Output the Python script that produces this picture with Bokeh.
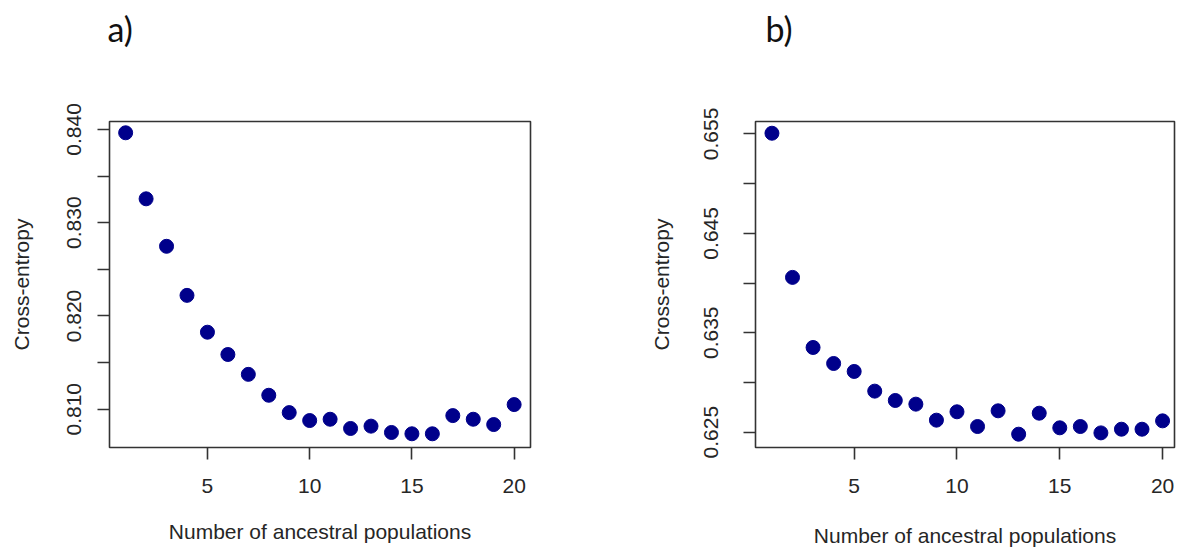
from bokeh.plotting import figure
from bokeh.models import FixedTicker, Range1d, PrintfTickFormatter
from bokeh.layouts import row
from bokeh.embed import file_html
from bokeh.resources import INLINE

# ---- data ----
k = list(range(1, 21))
ce_a = [0.83964, 0.83256, 0.82747, 0.82221, 0.81826, 0.81587, 0.81374, 0.81150,
        0.80964, 0.80879, 0.80893, 0.80794, 0.80819, 0.80751, 0.80737, 0.80737,
        0.80932, 0.80893, 0.80836, 0.81050]
ce_b = [0.65507, 0.64057, 0.63352, 0.63191, 0.63111, 0.62913, 0.62819, 0.62782,
        0.62621, 0.62705, 0.62557, 0.62715, 0.62480, 0.62691, 0.62544, 0.62557,
        0.62493, 0.62530, 0.62530, 0.62614]
xticks = [5, 10, 15, 20]
yticks_a = [0.810, 0.820, 0.830, 0.840]
yminor_a = [0.815, 0.825, 0.835]
yticks_b = [0.625, 0.635, 0.645, 0.655]
yminor_b = [0.630, 0.640, 0.650]
panel_labels = ["a)", "b)"]
xlabel = "Number of ancestral populations"
ylabel = "Cross-entropy"

FONT = "Liberation Sans"
INK = "#262626"


def make(ys, yt, ym, yr, xr, width, height, bl, br, bt, bb, tag, tag_off,
         lab_std, title_std, xtitle_std):
    p = figure(width=width, height=height, output_backend="svg", toolbar_location=None,
               x_range=Range1d(*xr), y_range=Range1d(*yr),
               min_border_left=bl, min_border_right=br, min_border_top=bt,
               min_border_bottom=bb)
    p.background_fill_color = "white"
    p.border_fill_color = "white"
    p.outline_line_color = "#333333"
    p.outline_line_width = 1.6
    p.grid.visible = False

    # panel tag placed high above the frame: a second (empty) line lifts it
    p.title.text = tag + "\n "
    p.title.text_font = "Lato"
    p.title.text_font_size = "34px"
    p.title.text_font_style = "normal"
    p.title.text_color = "#111111"
    p.title.text_line_height = 1.75
    p.title.align = "left"
    p.title.offset = tag_off
    p.title.standoff = 2

    p.scatter(k, ys, size=14, color="#00008B", line_color="#00008B")

    xa = p.xaxis[0]
    xa.ticker = FixedTicker(ticks=xticks)
    ya = p.yaxis[0]
    ya.ticker = FixedTicker(ticks=yt, minor_ticks=ym)
    ya.formatter = PrintfTickFormatter(format="%.3f")
    ya.major_label_orientation = "vertical"
    for ax in (xa, ya):
        ax.axis_line_color = None
        ax.major_tick_in = 0
        ax.major_tick_out = 12
        ax.major_tick_line_color = "#333333"
        ax.major_tick_line_width = 1.6
        ax.major_label_text_font = FONT
        ax.major_label_text_font_size = "21px"
        ax.major_label_text_color = INK
        ax.axis_label_text_font = FONT
        ax.axis_label_text_font_size = "21px"
        ax.axis_label_text_font_style = "normal"
        ax.axis_label_text_color = INK
    ya.minor_tick_in = 0
    ya.minor_tick_out = 12
    ya.minor_tick_line_color = "#333333"
    ya.minor_tick_line_width = 1.6
    xa.minor_tick_line_color = None
    xa.axis_label = xlabel
    ya.axis_label = ylabel
    xa.major_label_standoff = 19
    xa.axis_label_standoff = xtitle_std
    ya.major_label_standoff = lab_std
    ya.axis_label_standoff = title_std
    return p


pa = make(ce_a, yticks_a, yminor_a, (0.80590, 0.84085), (0.21, 20.80),
          640, 551, 109, 110, 121, 102, panel_labels[0], -2, 16, 32, 24)
pb = make(ce_b, yticks_b, yminor_b, (0.62346, 0.65625), (0.20, 20.58),
          538, 551, 115, 4, 121, 104, panel_labels[1], 10, 25, 29, 28)

layout = row(pa, pb)
open("out.html", "w").write(file_html(layout, INLINE))
